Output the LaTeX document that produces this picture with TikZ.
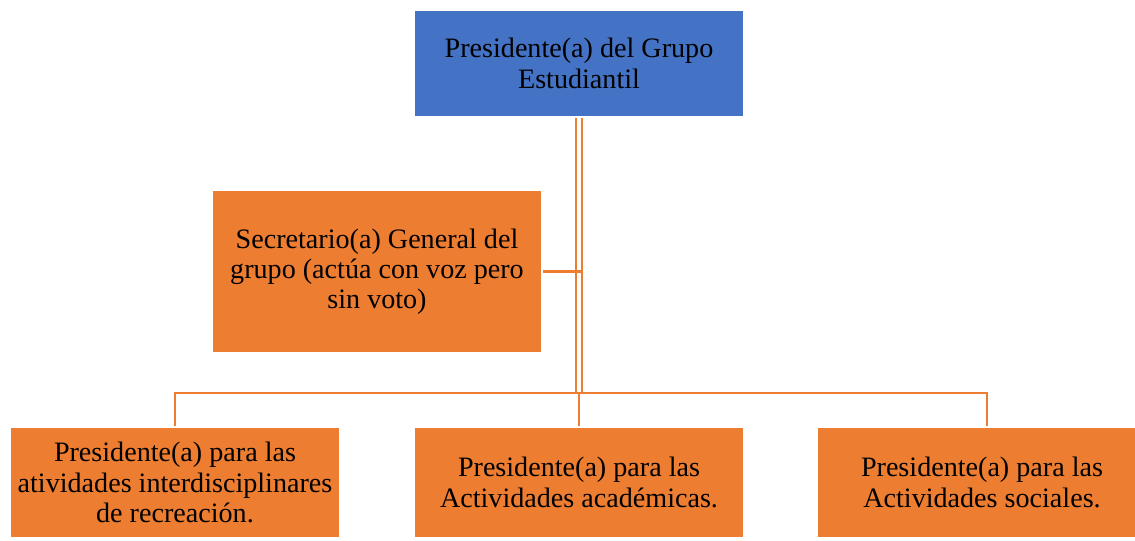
\documentclass[tikz,border=0pt]{standalone}
\usepackage{fontspec}
\setmainfont{Liberation Serif}
\usetikzlibrary{positioning, calc}
\definecolor{head}  {HTML}{4472C4}
\definecolor{unit}  {HTML}{ED7D31}

\tikzset{
  box/.style={draw=white, line width=0.6pt, fill=unit, align=center,
    minimum width=6.6cm, text=black, font=\fontsize{16}{17.2}\selectfont},
  link/.style={draw=unit, line width=1.3pt},
}

\begin{document}
\begin{tikzpicture}
    \useasboundingbox (0, 0) rectangle (22.7, 10.8);

    % --- top of the chart -----------------------------------------------------
    \node[box, fill=head, minimum height=2.14cm] (pres) at (11.58, 9.53)
      {Presidente(a) del Grupo\\Estudiantil};

    % --- the secretary, beside the trunk -------------------------------------
    \node[box, minimum height=3.26cm] (secr) at (7.54, 5.37)
      {Secretario(a) General del\\grupo (actúa con voz pero\\sin voto)};

    % --- the three presidents below ------------------------------------------
    \node[box, minimum height=2.22cm] (recr) at (3.5, 1.15)
      {Presidente(a) para las\\atividades interdisciplinares\\de recreación.};
    \node[box, minimum height=2.22cm] (acad) at (11.58, 1.15)
      {Presidente(a) para las\\Actividades académicas.};
    \node[box, minimum height=2.22cm] (soci) at (19.64, 1.15)
      {Presidente(a) para las\\Actividades sociales.};

    % --- connectors ----------------------------------------------------------
    \coordinate (bus) at (11.58, 2.94);
    \coordinate (tee) at (11.62, 0 |- secr.east);
    \draw[link, double=white, double distance=1.8pt, line width=1.1pt]
      (pres.south) -- (bus);
    \draw[link] (secr.east) -- (tee);
    \draw[link] (bus) -- (acad.north);
    \draw[link] (recr.north) |- (bus);
    \draw[link] (bus) -| ($(soci.north) + (0.1, 0)$);
  \end{tikzpicture}
\end{document}
